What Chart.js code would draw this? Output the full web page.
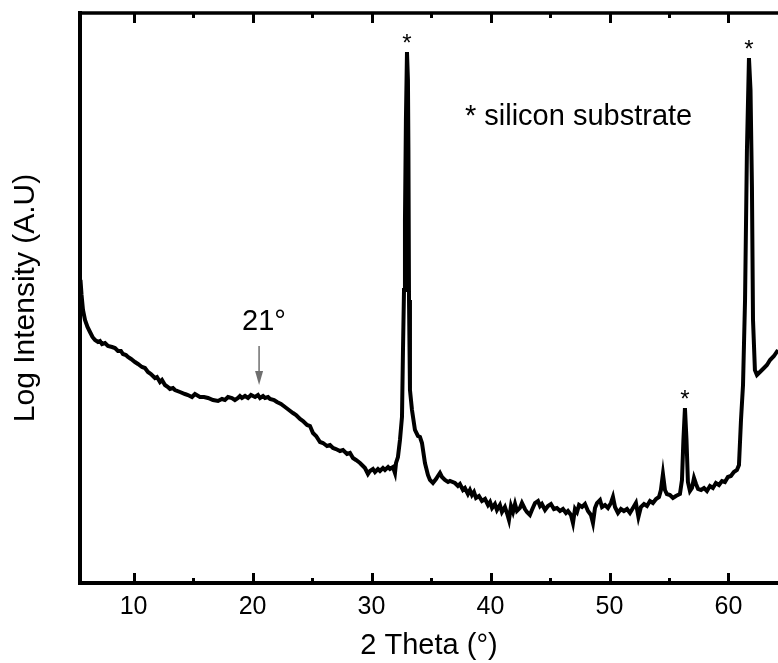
<!DOCTYPE html>
<html>
<head>
<meta charset="utf-8">
<script src="https://cdn.jsdelivr.net/npm/chart.js@4.4.1/dist/chart.umd.min.js"></script>
<style>
  html, body { margin: 0; padding: 0; background: #fff; overflow: hidden; }
  #wrap { width: 778px; height: 663px; position: relative; }
</style>
</head>
<body>
<div id="wrap"><canvas id="c" width="778" height="663"></canvas></div>
<script>
// ---- Data (2θ in degrees, log intensity in arbitrary units) ----
const twoTheta = [
  5.54, 5.63, 5.75, 5.92, 6.13, 6.34, 6.55, 6.76, 7.01, 7.18, 7.35, 7.60, 7.85, 8.19, 8.44, 8.69, 8.94, 9.11, 9.36, 9.53,
  9.79, 10.12, 10.37, 10.71, 10.96, 11.21, 11.46, 11.80, 11.97, 12.22, 12.39, 12.64, 12.89, 13.06, 13.31, 13.48, 13.90, 14.32, 14.57, 14.91,
  15.16, 15.58, 15.92, 16.26, 16.68, 17.10, 17.43, 17.68, 17.94, 18.27, 18.52, 18.78, 18.94, 19.11, 19.37, 19.62, 19.87, 20.21, 20.46, 20.63,
  20.88, 21.05, 21.30, 21.47, 21.81, 22.05, 22.39, 22.73, 23.06, 23.40, 23.66, 23.99, 24.24, 24.58, 24.83, 25.08, 25.34, 25.67, 25.92, 26.26,
  26.51, 26.76, 27.01, 27.35, 27.60, 27.94, 28.19, 28.44, 28.69, 29.03, 29.28, 29.45, 29.70, 29.87, 30.12, 30.29, 30.54, 30.71, 30.96, 31.13,
  31.39, 31.55, 31.80, 31.97, 32.06, 32.22, 32.39, 32.56, 32.64, 32.73, 32.81, 32.89, 32.98, 33.06, 33.10, 33.15, 33.23, 33.40, 33.65, 33.90,
  34.07, 34.24, 34.49, 34.74, 34.91, 35.16, 35.42, 35.58, 35.75, 35.92, 36.17, 36.43, 36.59, 37.01, 37.26, 37.43, 37.68, 37.85, 38.10, 38.27,
  38.44, 38.61, 38.78, 39.03, 39.28, 39.54, 39.79, 39.96, 40.13, 40.37, 40.54, 40.79, 40.96, 41.21, 41.38, 41.55, 41.72, 41.89, 42.06, 42.22,
  42.47, 42.64, 42.89, 43.06, 43.31, 43.48, 43.74, 43.99, 44.16, 44.32, 44.58, 44.83, 45.08, 45.33, 45.58, 45.84, 46.09, 46.34, 46.51, 46.76,
  46.93, 47.10, 47.27, 47.44, 47.69, 47.94, 48.19, 48.44, 48.61, 48.78, 48.95, 49.20, 49.37, 49.62, 49.87, 50.12, 50.29, 50.46, 50.71, 50.96,
  51.21, 51.47, 51.72, 51.97, 52.22, 52.43, 52.64, 52.90, 53.15, 53.40, 53.65, 53.91, 54.16, 54.32, 54.49, 54.66, 54.82, 55.08, 55.33, 55.58,
  55.92, 56.09, 56.21, 56.34, 56.47, 56.59, 56.76, 56.93, 57.10, 57.27, 57.44, 57.69, 57.94, 58.19, 58.44, 58.69, 58.94, 59.20, 59.45, 59.70,
  59.95, 60.20, 60.45, 60.71, 60.88, 61.05, 61.22, 61.39, 61.55, 61.72, 61.85, 61.97, 62.06, 62.22, 62.39, 62.64, 62.98, 63.23, 63.49, 63.82,
  64.16
];
const logIntensity = [
  3.03, 2.88, 2.73, 2.63, 2.56, 2.51, 2.46, 2.43, 2.41, 2.42, 2.39, 2.40, 2.37, 2.36, 2.35, 2.32, 2.32, 2.29, 2.28, 2.26,
  2.24, 2.21, 2.19, 2.16, 2.15, 2.11, 2.09, 2.05, 2.06, 2.01, 2.03, 1.98, 1.96, 1.94, 1.95, 1.93, 1.91, 1.89, 1.88, 1.86,
  1.89, 1.86, 1.86, 1.85, 1.83, 1.82, 1.84, 1.83, 1.86, 1.85, 1.83, 1.85, 1.87, 1.85, 1.87, 1.85, 1.88, 1.86, 1.88, 1.85,
  1.87, 1.85, 1.86, 1.84, 1.83, 1.81, 1.79, 1.76, 1.73, 1.70, 1.68, 1.64, 1.62, 1.58, 1.57, 1.50, 1.47, 1.41, 1.40, 1.37,
  1.38, 1.35, 1.34, 1.32, 1.33, 1.29, 1.30, 1.25, 1.23, 1.20, 1.17, 1.15, 1.09, 1.12, 1.14, 1.11, 1.14, 1.12, 1.15, 1.13,
  1.16, 1.14, 1.16, 1.10, 1.20, 1.26, 1.43, 1.66, 2.30, 2.93, 3.63, 4.63, 5.31, 5.03, 4.33, 2.83, 1.93, 1.73, 1.53, 1.47,
  1.46, 1.40, 1.20, 1.08, 1.03, 1.00, 1.04, 1.07, 1.10, 1.06, 1.03, 1.01, 1.02, 1.00, 0.97, 0.99, 0.93, 0.95, 0.89, 0.93,
  0.88, 0.91, 0.85, 0.87, 0.82, 0.84, 0.78, 0.81, 0.75, 0.79, 0.73, 0.78, 0.71, 0.76, 0.70, 0.63, 0.77, 0.71, 0.79, 0.72,
  0.75, 0.80, 0.74, 0.71, 0.68, 0.73, 0.80, 0.82, 0.77, 0.79, 0.73, 0.77, 0.79, 0.74, 0.75, 0.72, 0.74, 0.70, 0.72, 0.68,
  0.60, 0.74, 0.71, 0.78, 0.76, 0.79, 0.72, 0.68, 0.60, 0.75, 0.80, 0.83, 0.76, 0.78, 0.75, 0.80, 0.86, 0.76, 0.70, 0.74,
  0.72, 0.74, 0.70, 0.75, 0.80, 0.66, 0.76, 0.79, 0.77, 0.82, 0.80, 0.84, 0.86, 0.93, 1.09, 0.93, 0.89, 0.88, 0.85, 0.87,
  0.89, 1.03, 1.43, 1.75, 1.43, 1.01, 0.92, 0.95, 1.05, 0.99, 0.94, 0.93, 0.95, 0.92, 0.97, 0.95, 1.00, 0.98, 1.02, 1.01,
  1.06, 1.07, 1.11, 1.13, 1.18, 1.63, 1.98, 2.83, 4.33, 5.25, 4.93, 3.96, 2.63, 2.13, 2.08, 2.11, 2.15, 2.18, 2.23, 2.27,
  2.33
];
const xMajorTicks = [10, 20, 30, 40, 50, 60];
const xMinorTicks = [15, 25, 35, 45, 55];
const siliconPeaks = [32.98, 56.34, 61.72];
const xRange = [5.5, 64.16];
const yRange = [0, 5.7];

const xTitle = '2 Theta (°)';
const yTitle = 'Log Intensity (A.U)';
const legendNote = '* silicon substrate';
const humpLabel = '21°';
const humpArrow = { x: 20.55, from: 2.37, to: 1.98, labelX: 20.96, labelY: 2.61 };
const notePos = { x: 37.85, y: 4.66 };

const points = twoTheta.map((t, i) => ({ x: t, y: logIntensity[i] }));
const FONT = "'Liberation Sans', Arial, Helvetica, sans-serif";

const decor = {
  id: 'decor',
  afterDraw(chart) {
    const { ctx, chartArea: a, scales: { x, y } } = chart;
    ctx.save();
    ctx.strokeStyle = '#000';
    ctx.lineCap = 'butt';
    // top frame line
    ctx.lineWidth = 3.5;
    ctx.beginPath();
    ctx.moveTo(a.left - 2, a.top);
    ctx.lineTo(a.right, a.top);
    ctx.stroke();
    // inward ticks
    ctx.lineWidth = 3;
    const tick = (v, len) => {
      const px = Math.round(x.getPixelForValue(v)) + 0.5;
      ctx.beginPath();
      ctx.moveTo(px, a.bottom); ctx.lineTo(px, a.bottom - len);
      ctx.moveTo(px, a.top); ctx.lineTo(px, a.top + len);
      ctx.stroke();
    };
    xMajorTicks.forEach(v => tick(v, 10));
    xMinorTicks.forEach(v => tick(v, 5));

    // asterisks above silicon peaks
    ctx.fillStyle = '#000';
    ctx.font = '24px ' + FONT;
    ctx.textAlign = 'center';
    ctx.textBaseline = 'middle';
    siliconPeaks.forEach(p => {
      const i = twoTheta.indexOf(p);
      const px = x.getPixelForValue(p);
      const py = y.getPixelForValue(logIntensity[i]);
      ctx.fillText('*', px, py - 8);
    });

    // note text
    ctx.font = '29px ' + FONT;
    ctx.textAlign = 'left';
    ctx.fillText(legendNote, x.getPixelForValue(notePos.x), y.getPixelForValue(notePos.y));

    // 21° label + arrow
    ctx.textAlign = 'center';
    ctx.font = '29px ' + FONT;
    ctx.fillText(humpLabel, x.getPixelForValue(humpArrow.labelX), y.getPixelForValue(humpArrow.labelY));
    const ax = x.getPixelForValue(humpArrow.x);
    const ay1 = y.getPixelForValue(humpArrow.from);
    const ay2 = y.getPixelForValue(humpArrow.to);
    ctx.strokeStyle = '#6f6f6f';
    ctx.fillStyle = '#6f6f6f';
    ctx.lineWidth = 1.5;
    ctx.beginPath();
    ctx.moveTo(ax, ay1); ctx.lineTo(ax, ay2 - 12);
    ctx.stroke();
    ctx.beginPath();
    ctx.moveTo(ax - 4, ay2 - 14);
    ctx.lineTo(ax + 4, ay2 - 14);
    ctx.lineTo(ax, ay2);
    ctx.closePath();
    ctx.fill();
    ctx.restore();
  }
};

new Chart(document.getElementById('c'), {
  type: 'line',
  data: {
    datasets: [{
      data: points,
      borderColor: '#000',
      borderWidth: 4,
      pointRadius: 0,
      tension: 0,
      fill: false
    }]
  },
  options: {
    responsive: false,
    animation: false,
    events: [],
    layout: { padding: { top: 13, right: 0, left: 0, bottom: 0 } },
    plugins: { legend: { display: false }, tooltip: { enabled: false } },
    scales: {
      x: {
        type: 'linear',
        position: 'bottom',
        min: xRange[0],
        max: xRange[1],
        afterBuildTicks: s => { s.ticks = xMajorTicks.map(v => ({ value: v })); },
        afterFit: s => { s.height = 80; },
        grid: { display: false, drawTicks: false },
        border: { display: true, color: '#000', width: 4 },
        ticks: { color: '#000', padding: 9, maxRotation: 0, font: { family: "'Liberation Sans Narrow', 'Liberation Sans', Arial, sans-serif", size: 25 } },
        title: { display: true, text: xTitle, color: '#000', padding: { top: 0, bottom: 0 }, font: { family: FONT, size: 29 } }
      },
      y: {
        type: 'linear',
        min: yRange[0],
        max: yRange[1],
        afterFit: s => { s.width = 80; },
        grid: { display: false, drawTicks: false },
        border: { display: true, color: '#000', width: 4 },
        ticks: { display: false },
        title: { display: true, text: yTitle, color: '#000', padding: { top: 8, bottom: 0 }, font: { family: FONT, size: 30 } }
      }
    }
  },
  plugins: [decor]
});
</script>
</body>
</html>
